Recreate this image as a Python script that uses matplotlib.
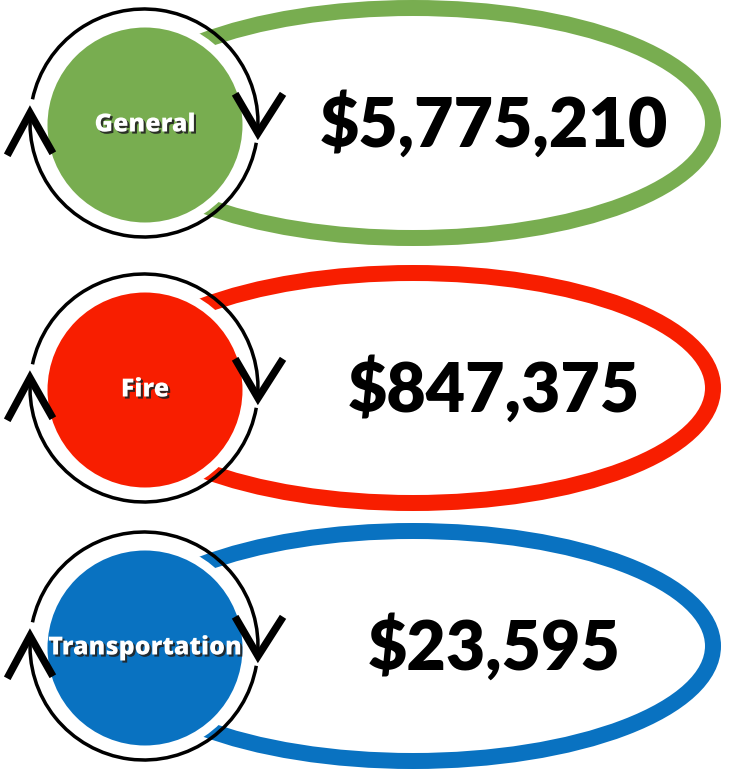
import numpy as np
import matplotlib
matplotlib.use("Agg")
import matplotlib.pyplot as plt
from matplotlib.patches import Circle, Ellipse, Arc
import matplotlib.patheffects as pe

categories = ["General", "Fire", "Transportation"]
amounts = [5775210, 847375, 23595]
colors = ["#78AD50", "#F81E00", "#0972C1"]
centers_y = [123, 388, 646]

W, H = 734, 778
fig = plt.figure(figsize=(W / 100, H / 100), dpi=100)
ax = fig.add_axes([0, 0, 1, 1])
ax.set_xlim(0, W)
ax.set_ylim(H, 0)
ax.axis("off")

PX = 0.72  # points per pixel at dpi 100

for cat, amt, col, cy in zip(categories, amounts, colors, centers_y):
    # outer ellipse
    ax.add_patch(Ellipse((413, cy), 2 * 300, 2 * 115, fill=False,
                         edgecolor=col, linewidth=16 * PX, zorder=1))
    # filled circle with white border
    ax.add_patch(Circle((145, cy + 2), 102, facecolor=col, edgecolor="white",
                        linewidth=9 * PX, zorder=2))
    # ring arcs (y axis inverted)
    rc = (144, cy)
    r = 114
    ax.add_patch(Arc(rc, 2 * r, 2 * r, theta1=192, theta2=365,
                     edgecolor="black", linewidth=3.5 * PX, zorder=3))
    ax.add_patch(Arc(rc, 2 * r, 2 * r, theta1=10, theta2=185,
                     edgecolor="black", linewidth=3.5 * PX, zorder=3))
    # arrowheads
    ax.plot([237, 258, 281], [cy - 26, cy + 10, cy - 26], color="black",
            linewidth=7.5 * PX, solid_joinstyle="miter", zorder=4)
    ax.plot([9, 30, 51], [cy + 29, cy - 10, cy + 27], color="black",
            linewidth=7.5 * PX, solid_joinstyle="miter", zorder=4)
    # label
    ax.text(145, cy + 2, cat, ha="center", va="center", color="white",
            fontsize=18, fontweight="heavy", family="Open Sans", zorder=5,
            path_effects=[pe.SimplePatchShadow(offset=(1.5, -1.5),
                                               shadow_rgbFace="#222222", alpha=0.9),
                          pe.Normal()])
    # amount
    ax.text(494, cy + 2, f"${amt:,}", ha="center", va="center", color="black",
            fontsize=49, fontweight="heavy", family="Lato", zorder=5)

fig.savefig("out.png", dpi=100)
